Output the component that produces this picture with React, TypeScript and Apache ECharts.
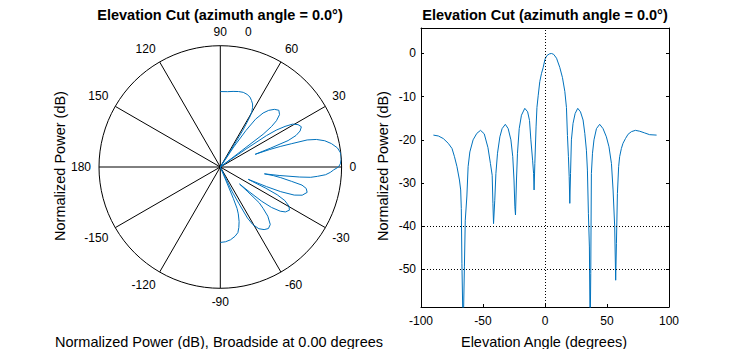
import React, { useEffect, useRef } from "react";
import * as echarts from "echarts";

// Elevation cut data (degrees, normalized dB)
const elevAngle: number[] = [
  -90, -86, -82, -78, -75, -73, -71, -69, -68, -67.5, -67, -66, -65, -64.3, -63, -62, -60.6, -58, -55, -52,
  -49, -46, -44, -42.6, -42, -41.5, -40.5, -39.6, -38.3, -36.4, -34.6, -32, -29.7, -27.5, -26, -25, -24.3,
  -23.8, -23, -22.2, -20.8, -19, -16.3, -14, -12.5, -11.4, -10, -9.2, -8.8, -8.2, -7.2, -6.5, -5.5, -4.2,
  -2.8, -1.5, 0, 1.5, 3.5, 5.2, 7, 9.3, 11.9, 14.1, 16, 17.3, 18.1, 18.9, 19.5, 20, 20.6, 21.3, 22.6, 24.3,
  26.4, 28.6, 30.7, 32.1, 33.4, 34.2, 35, 35.8, 36.4, 36.9, 37.4, 38.3, 39.5, 41.5, 44.1, 46.8, 49.5, 51.6,
  53.6, 54.9, 56.2, 57, 57.6, 58.4, 59.4, 60.2, 61.6, 62.9, 64.9, 67, 69.7, 72.9, 76.4, 80.4, 84.4, 90,
];
const powerDb: number[] = [
  -18.9, -19.1, -19.7, -20.8, -22.0, -23.9, -26.2, -29.3, -31.6, -35.9, -48.6, -65, -49.4, -38.6, -33, -26.2,
  -22.8, -20.0, -18.5, -17.8, -18.6, -21.8, -25.5, -28.2, -34.7, -39.4, -34, -27.8, -23.1, -19.3, -17.4,
  -16.4, -17.4, -20.0, -23.9, -29.3, -35.5, -37.4, -29.3, -23.1, -17.4, -14.3, -12.7, -13.5, -15.5, -20.0,
  -24.7, -27.8, -31.6, -25.5, -17, -12.5, -9.8, -6.5, -4.6, -3.3, -1.3, -0.5, -0.1, 0, -0.2, -1.1, -3.2,
  -5.6, -8.8, -12.5, -19, -23.9, -28.5, -34.7, -27.8, -20, -16.2, -13.9, -12.7, -13.5, -15.4, -18.5, -22.4,
  -27, -37, -44.8, -65, -50.9, -27.8, -23.1, -20, -17.4, -16.4, -17.4, -19.3, -21.6, -25.5, -31.6, -40.1,
  -52.5, -44, -32.4, -26.2, -23.9, -22.0, -20.8, -19.7, -18.7, -18.1, -17.8, -18.0, -18.4, -18.8, -18.9,
];

const polarFloorDb = -50;
const yTicks: number[] = [-50, -40, -30, -20, -10, 0];
const gridLinesY: number[] = [-40, -50];
const titleText = "Elevation Cut (azimuth angle = 0.0°)";

const FONT = "'Liberation Sans', Arial, sans-serif";
const BLUE = "#0072BD";

export default function App() {
  const ref = useRef<HTMLDivElement>(null);
  useEffect(() => {
    if (!ref.current) return;
    const chart = echarts.init(ref.current, undefined, { renderer: "svg" });
    const polarData = elevAngle.map((a, i) => [Math.max(powerDb[i], polarFloorDb), a]);
    const cartData = elevAngle.map((a, i) => [a, powerDb[i]]);
    const yMin = -58.7;
    const yMax = 5.9;
    const txt = (x: number, y: number, text: string, size: number, bold = false, rot = 0) => ({
      type: "text",
      x,
      y,
      rotation: rot,
      silent: true,
      style: {
        text,
        fill: "#000",
        font: `${bold ? "bold " : ""}${size}px ${FONT}`,
        align: "center",
        verticalAlign: "middle",
      },
    });
    const option: any = {
      animation: false,
      backgroundColor: "#fff",
      polar: { center: [220.3, 167], radius: 121.3 },
      angleAxis: {
        type: "value",
        min: -180,
        max: 180,
        interval: 30,
        startAngle: 180,
        clockwise: false,
        axisLine: { show: true, lineStyle: { color: "#000", width: 1 } },
        axisTick: { show: false },
        splitLine: { show: true, lineStyle: { color: "#000", width: 1 } },
        axisLabel: {
          color: "#000",
          fontSize: 12,
          fontFamily: FONT,
          margin: 8,
          formatter: (v: number) => (v === -180 ? "180" : v === 180 ? "" : String(v)),
        },
      },
      radiusAxis: {
        type: "value",
        min: polarFloorDb,
        max: 0,
        axisLine: { show: false },
        axisTick: { show: false },
        axisLabel: { show: false },
        splitLine: { show: false },
      },
      grid: { left: 421, right: 69, top: 28, bottom: 42 },
      xAxis: [
        {
          type: "value",
          min: -100,
          max: 100,
          interval: 50,
          position: "bottom",
          axisLine: { show: true, onZero: false, lineStyle: { color: "#000", width: 1 } },
          axisTick: { show: true, inside: true, length: 3, lineStyle: { color: "#000" } },
          axisLabel: { color: "#000", fontSize: 12, fontFamily: FONT, margin: 8 },
          splitLine: { show: false },
        },
        {
          type: "value",
          min: -100,
          max: 100,
          interval: 50,
          position: "top",
          axisLine: { show: true, onZero: false, lineStyle: { color: "#000", width: 1 } },
          axisTick: { show: false },
          axisLabel: { show: false },
          splitLine: { show: false },
        },
      ],
      yAxis: [
        {
          type: "value",
          min: yMin,
          max: yMax,
          position: "left",
          axisLine: { show: true, onZero: false, lineStyle: { color: "#000", width: 1 } },
          axisTick: { show: true, inside: true, length: 3, customValues: yTicks, lineStyle: { color: "#000" } },
          axisLabel: { color: "#000", fontSize: 12, fontFamily: FONT, margin: 5, customValues: yTicks },
          splitLine: { show: false },
        },
        {
          type: "value",
          min: yMin,
          max: yMax,
          position: "right",
          axisLine: { show: true, onZero: false, lineStyle: { color: "#000", width: 1 } },
          axisTick: { show: true, inside: true, length: 3, customValues: yTicks, lineStyle: { color: "#000" } },
          axisLabel: { show: false },
          splitLine: { show: false },
        },
      ],
      series: [
        {
          type: "line",
          coordinateSystem: "polar",
          data: polarData,
          showSymbol: false,
          symbol: "none",
          lineStyle: { color: BLUE, width: 1 },
          silent: true,
        },
        {
          type: "line",
          xAxisIndex: 0,
          yAxisIndex: 0,
          data: cartData,
          showSymbol: false,
          symbol: "none",
          clip: true,
          lineStyle: { color: BLUE, width: 1 },
          silent: true,
          markLine: {
            silent: true,
            symbol: ["none", "none"],
            label: { show: false },
            lineStyle: { color: "#000", type: [1, 2], width: 1 },
            data: [{ xAxis: 0 }, ...gridLinesY.map((v) => ({ yAxis: v }))],
          },
        },
      ],
      graphic: [
        txt(220, 15, titleText, 14.5, true),
        txt(545, 15, titleText, 14.5, true),
        txt(248.3, 32.3, "0", 12),
        txt(60, 166, "Normalized Power (dB)", 14.5, false, Math.PI / 2),
        txt(383, 166, "Normalized Power (dB)", 14.5, false, Math.PI / 2),
        txt(219, 341.5, "Normalized Power (dB), Broadside at 0.00 degrees", 14.5),
        txt(544, 341.5, "Elevation Angle (degrees)", 14.5),
      ],
    };
    chart.setOption(option);
    return () => chart.dispose();
  }, []);
  return (
    <div
      ref={ref}
      style={{ position: "fixed", left: 0, top: 0, width: 738, height: 349, background: "#fff" }}
    />
  );
}
